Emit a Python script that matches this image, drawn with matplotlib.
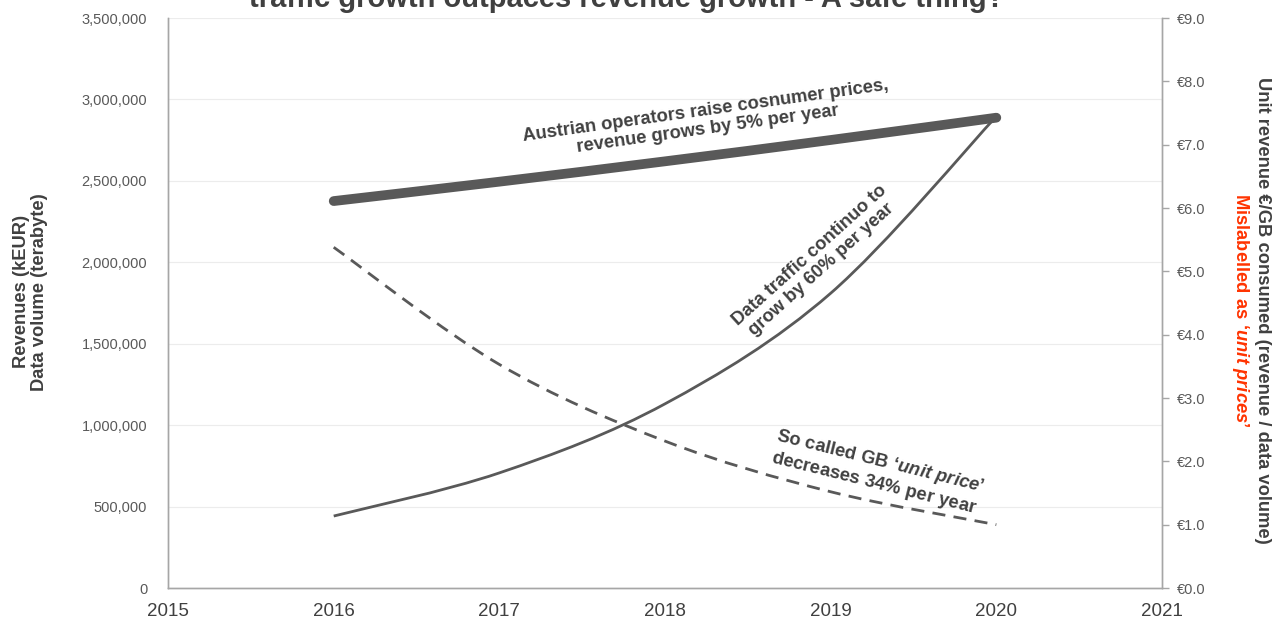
import numpy as np
import matplotlib.pyplot as plt
from matplotlib.path import Path
from matplotlib.patches import PathPatch
from matplotlib.ticker import FuncFormatter, MultipleLocator

plt.rcParams['font.family'] = ['Liberation Sans', 'DejaVu Sans']
plt.rcParams['mathtext.fontset'] = 'custom'
plt.rcParams['mathtext.rm'] = 'Liberation Sans:bold'
plt.rcParams['mathtext.it'] = 'Liberation Sans:bold:italic'
plt.rcParams['mathtext.bf'] = 'Liberation Sans:bold'

years = [2016, 2017, 2018, 2019, 2020]
revenue_keur = [2376000, 2495000, 2620000, 2751000, 2888000]
volume_tb = [442000, 707000, 1131000, 1810000, 2896000]
unit_revenue = [5.38, 3.53, 2.32, 1.52, 1.00]

left_ticks = [0, 500000, 1000000, 1500000, 2000000, 2500000, 3000000, 3500000]
right_ticks = [0, 1, 2, 3, 4, 5, 6, 7, 8, 9]
x_ticks = [2015, 2016, 2017, 2018, 2019, 2020, 2021]

DARK = '#595959'
TXT = '#404040'
SPINE = '#a6a6a6'
RED = '#ff3300'


def smooth_path(xs, ys):
    # Catmull-Rom through the points, drawn as cubic Bezier pieces
    pts = np.column_stack([xs, ys]).astype(float)
    verts = [pts[0]]
    codes = [Path.MOVETO]
    n = len(pts)
    for i in range(n - 1):
        p0 = pts[max(i - 1, 0)]
        p1 = pts[i]
        p2 = pts[i + 1]
        p3 = pts[min(i + 2, n - 1)]
        c1 = p1 + (p2 - p0) / 6.0
        c2 = p2 - (p3 - p1) / 6.0
        verts += [c1, c2, p2]
        codes += [Path.CURVE4] * 3
    return Path(verts, codes)


fig = plt.figure(figsize=(12.79, 6.21), dpi=100)
ax = fig.add_axes([0.1314, 0.0531, 0.7771, 0.9179])
ax2 = ax.twinx()

ax.set_xlim(2015, 2021)
ax.set_ylim(0, 3500000)
ax2.set_ylim(0, 9)

for yv in left_ticks[1:]:
    ax.axhline(yv, color='#ececec', lw=0.8, zorder=0)

ax.add_patch(PathPatch(smooth_path(years, revenue_keur), fill=False,
                       edgecolor=DARK, lw=7.0, capstyle='round', zorder=3))
ax.add_patch(PathPatch(smooth_path(years, volume_tb), fill=False,
                       edgecolor=DARK, lw=2.0, zorder=3))
ax2.add_patch(PathPatch(smooth_path(years, unit_revenue), fill=False,
                        edgecolor=DARK, lw=2.0, linestyle=(0, (4.7, 3.0)), zorder=3))

# axes styling
for a in (ax, ax2):
    a.spines['top'].set_visible(False)
    for s in ('left', 'right', 'bottom'):
        a.spines[s].set_color(SPINE)
        a.spines[s].set_linewidth(1.0)

ax.yaxis.set_major_locator(MultipleLocator(500000))
ax.yaxis.set_major_formatter(FuncFormatter(lambda v, p: f'{int(v):,}'))
ax.tick_params(axis='y', length=0, pad=15, labelsize=10.5, labelcolor=DARK)
ax.set_xticks(x_ticks)
ax.tick_params(axis='x', length=0, pad=11, labelsize=13.5, labelcolor=TXT)

ax2.set_yticks(right_ticks)
ax2.yaxis.set_major_formatter(FuncFormatter(lambda v, p: f'€{v:.1f}'))
ax2.tick_params(axis='y', length=5, width=1, color=SPINE, pad=6,
                labelsize=10.5, labelcolor=DARK)

fig.text(0.024, 0.53, 'Revenues (kEUR)\nData volume (terabyte)', rotation=90,
         ha='center', va='center', fontsize=13.2, fontweight='bold', color=TXT,
         linespacing=1.05)

fig.text(0.987, 0.5, 'Unit revenue €/GB consumed (revenue / data volume)',
         rotation=270, ha='center', va='center', fontsize=13.2,
         fontweight='bold', color=TXT)
fig.text(0.970, 0.5, r"$\mathrm{Mislabelled\ as}\ \mathit{‘unit\ prices’}$",
         rotation=270, ha='center', va='center', fontsize=13.2, color=RED)

fig.text(0.49, 1 - 7 / 621, 'traffic growth outpaces revenue growth - A safe thing?',
         ha='center', va='baseline', fontsize=21, fontweight='bold', color=TXT)

ax.text(2018.25, 2875000, 'Austrian operators raise cosnumer prices,\nrevenue grows by 5% per year',
        rotation=8, ha='center', va='center', fontsize=13.2, fontweight='bold',
        color=TXT, linespacing=1.1, rotation_mode='anchor')
ax.text(2018.91, 2000000, 'Data traffic continuo to\ngrow by 60% per year',
        rotation=42, ha='center', va='center', fontsize=13.2, fontweight='bold',
        color=TXT, linespacing=1.1, rotation_mode='anchor')
ax2.text(2019.28, 1.83, "$\\mathrm{So\\ called\\ GB}\\ \\mathit{‘unit\\ price’}$\n"
         "$\\mathrm{decreases\\ 34\\%\\ per\\ year}$",
         rotation=-14, ha='center', va='center', fontsize=13.2, color=TXT,
         linespacing=1.1, rotation_mode='anchor')

fig.savefig('out.png', dpi=100)
